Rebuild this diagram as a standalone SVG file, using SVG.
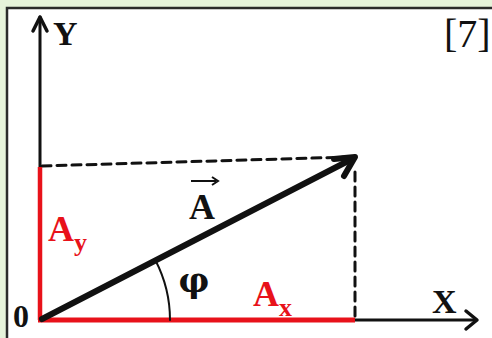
<svg xmlns="http://www.w3.org/2000/svg" width="492" height="338" viewBox="0 0 492 338">
<style>
.lbl{font-family:"Liberation Serif","Times New Roman",serif;font-weight:bold}
.red{fill:#e8121a}
.blk{fill:#111}
.dash{stroke:#111;stroke-width:3;stroke-dasharray:9 6;fill:none}
</style>
<rect x="0" y="0" width="492" height="338" fill="#e6f3da"/>
<rect x="7" y="8" width="490" height="340" fill="#ffffff" stroke="#2a2a2a" stroke-width="2.5"/>
<g id="connectors" fill="none" stroke-linecap="round" stroke-linejoin="round">
  <line x1="42" y1="166" x2="350" y2="157" class="dash"/>
  <line x1="355" y1="172" x2="355" y2="318" class="dash"/>
  <line x1="40" y1="320" x2="40" y2="17" stroke="#111" stroke-width="3"/>
  <polyline points="33,31 40,17 47,31" stroke="#111" stroke-width="3.5"/>
  <line x1="355" y1="320" x2="476" y2="320" stroke="#111" stroke-width="3"/>
  <polyline points="466,311 477,320 466,329" stroke="#111" stroke-width="3.5"/>
  <line x1="40" y1="320" x2="40" y2="167" stroke="#e8121a" stroke-width="4.5" stroke-linecap="butt"/>
  <line x1="38" y1="320" x2="355" y2="320" stroke="#e8121a" stroke-width="5" stroke-linecap="butt"/>
  <line x1="42" y1="319" x2="352" y2="159" stroke="#111" stroke-width="6"/>
  <polyline points="334,159 355,157 344,176" stroke="#111" stroke-width="6"/>
  <path d="M170,320 A130,130 0 0 0 155.4,260.2" stroke="#111" stroke-width="2"/>
</g>
<g id="node-Y"><text x="53" y="45" class="lbl blk" font-size="34">Y</text></g>
<g id="node-ref"><text x="444" y="47" font-family="Liberation Serif,serif" font-size="40" fill="#111">[7]</text></g>
<g id="node-zero"><text x="13" y="327" class="lbl blk" font-size="32">0</text></g>
<g id="node-A">
  <text x="189" y="219" class="lbl blk" font-size="36">A</text>
  <line x1="191" y1="181" x2="216" y2="181" stroke="#111" stroke-width="2"/>
  <polyline points="212,177 218,181 212,185" fill="none" stroke="#111" stroke-width="2"/>
</g>
<g id="node-phi"><text x="194" y="292" text-anchor="middle" font-family="DejaVu Serif,serif" font-weight="bold" font-size="34" fill="#111">φ</text></g>
<g id="node-Ay"><text x="48" y="241" class="lbl red" font-size="36">A<tspan font-size="26" dy="10">y</tspan></text></g>
<g id="node-Ax"><text x="253" y="306" class="lbl red" font-size="36">A<tspan font-size="26" dy="10">x</tspan></text></g>
<g id="node-X"><text x="432" y="313" class="lbl blk" font-size="34">X</text></g>
</svg>
